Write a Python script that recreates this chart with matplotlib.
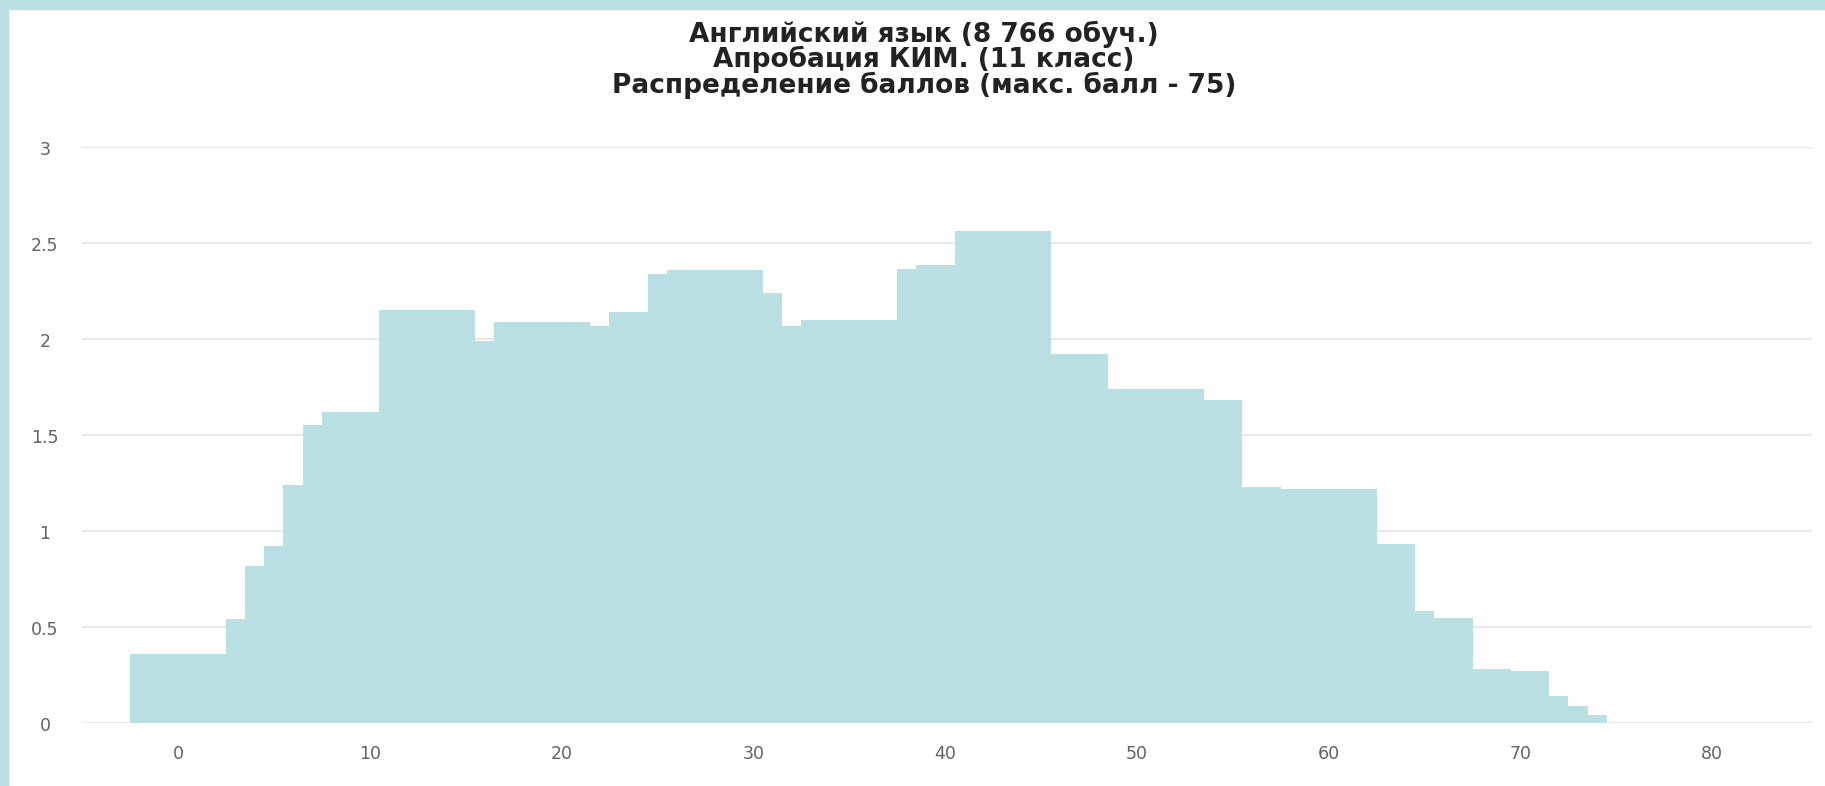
import matplotlib
matplotlib.use("Agg")
import matplotlib.pyplot as plt
from matplotlib.patches import Rectangle

plt.rcParams['font.family'] = ['DejaVu Sans']

# score groups (first score, last score) and share of students, %
score_lo = [-2, 3, 4, 5, 6, 7, 8, 11, 16, 17, 22, 23, 25, 26, 31, 32, 33, 38, 39,
            41, 46, 49, 54, 56, 58, 63, 65, 66, 68, 70, 72, 73, 74]
score_hi = [2, 3, 4, 5, 6, 7, 10, 15, 16, 21, 22, 24, 25, 30, 31, 32, 37, 38, 40,
            45, 48, 53, 55, 57, 62, 64, 65, 67, 69, 71, 72, 73, 74]
percent = [0.36, 0.54, 0.82, 0.92, 1.24, 1.55, 1.62, 2.15, 1.99, 2.09, 2.07, 2.14,
           2.34, 2.36, 2.24, 2.07, 2.10, 2.365, 2.385, 2.56, 1.92, 1.74, 1.68,
           1.23, 1.22, 0.93, 0.585, 0.545, 0.28, 0.27, 0.14, 0.09, 0.04]

x_ticks = [0, 10, 20, 30, 40, 50, 60, 70, 80]
y_ticks = [0, 0.5, 1, 1.5, 2, 2.5, 3]
y_labels = ['0', '0.5', '1', '1.5', '2', '2.5', '3']

title_lines = ['Английский язык (8 766 обуч.)',
               'Апробация КИМ. (11 класс)',
               'Распределение баллов (макс. балл - 75)']

fill = '#bae0e3'
W, H = 1825, 786

fig = plt.figure(figsize=(W / 100, H / 100), dpi=100)
fig.patch.set_facecolor('white')

# teal frame on the top and left
fig.patches.append(Rectangle((0, 1 - 9 / H), 1, 9 / H, transform=fig.transFigure,
                             color=fill, zorder=0))
fig.patches.append(Rectangle((0, 0), 8 / W, 1, transform=fig.transFigure,
                             color=fill, zorder=0))

ax = fig.add_axes([82 / W, 1 - 723 / H, (1812 - 82) / W, (723 - 147) / H])

lefts = [lo - 0.5 for lo in score_lo]
widths = [hi - lo + 1 for lo, hi in zip(score_lo, score_hi)]
ax.bar(lefts, percent, width=widths, align='edge', color=fill, linewidth=0, zorder=2)

ax.set_xlim(-5.0, 85.2)
ax.set_ylim(0, 3)
ax.set_axisbelow(True)
ax.yaxis.grid(True, color='#e8e8e8', linewidth=1.6)
ax.set_yticks(y_ticks)
ax.set_yticklabels([])
ax.set_xticks(x_ticks)
ax.set_xticklabels([str(t) for t in x_ticks], fontsize=12.5, color='#636363')
ax.tick_params(axis='x', length=0, pad=16)
ax.tick_params(axis='y', length=0)
for s in ax.spines.values():
    s.set_visible(False)

# y labels sit left of the grid lines
for v, lab in zip(y_ticks, y_labels):
    ypix = 723 - v * 192 + 3
    fig.text(45 / W, 1 - ypix / H, lab, ha='center', va='center',
             fontsize=12.5, color='#636363')

for i, line in enumerate(title_lines):
    fig.text(924 / W, 1 - (34 + i * 25.6) / H, line, ha='center', va='center',
             fontsize=19, fontweight='bold', color='#222222')

fig.savefig('out.png', dpi=100)
